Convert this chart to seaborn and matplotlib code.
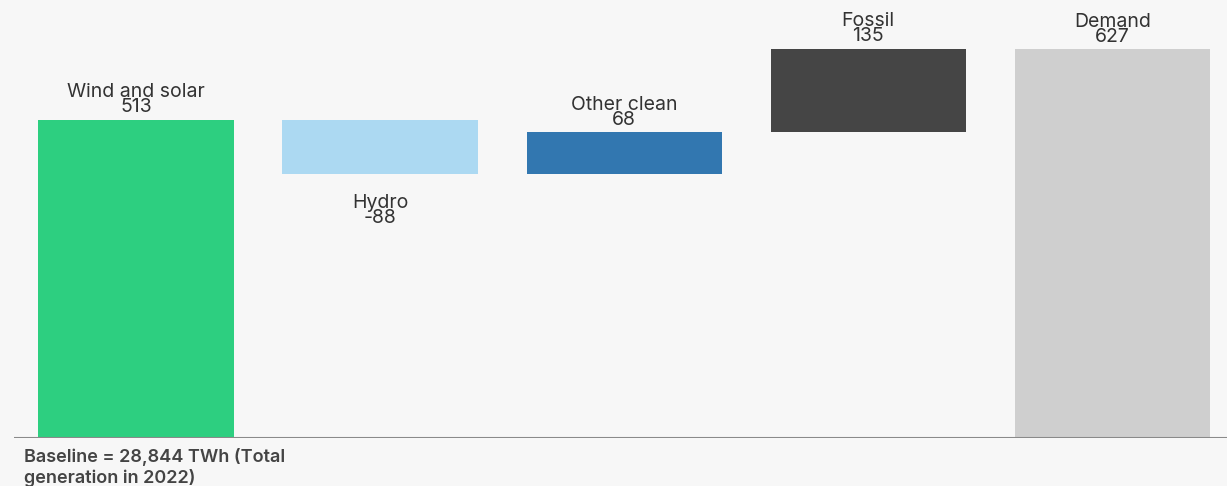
import matplotlib

matplotlib.use("Agg")
import matplotlib.pyplot as plt
import numpy as np
import pandas as pd
import seaborn as sns

# waterfall data (TWh change vs 2022 baseline)
categories = ["Wind and solar", "Hydro", "Other clean", "Fossil", "Demand"]
changes = [513, -88, 68, 135, 627]
is_total = [False, False, False, False, True]
bar_colors = ["#2dcf80", "#acd9f2", "#3277b0", "#454545", "#cfcfcf"]
footnote = "Baseline = 28,844 TWh (Total\ngeneration in 2022)"

# floating bar bottoms from running total
running = np.cumsum([0 if t else c for c, t in zip(changes, is_total)])
bottoms = [0 if t else r - c for c, r, t in zip(changes, running, is_total)]

df = pd.DataFrame({"category": categories, "change": changes, "bottom": bottoms})

sns.set_theme(style="white")
plt.rcParams["font.family"] = ["Inter", "DejaVu Sans"]

bg = "#f7f7f7"
fig = plt.figure(figsize=(12.27, 4.86), dpi=100, facecolor=bg)
ax = fig.add_axes([14 / 1227, 48 / 486, 1213 / 1227, 434 / 486])
ax.set_facecolor(bg)

sns.barplot(data=df, x="category", y="change", bottom=df["bottom"], width=0.8,
            color="#cccccc", saturation=1, ax=ax)
for patch, col in zip(ax.patches, bar_colors):
    patch.set_facecolor(col)
    patch.set_edgecolor("none")

ax.set_xlim(-0.5, 4.47)
ax.set_ylim(0, 700)

for i, row in df.iterrows():
    label = f"{row['category']}\n{row['change']}"
    if row["change"] >= 0:
        ax.annotate(label, (i, row["bottom"] + row["change"]), xytext=(0, 2.5),
                    textcoords="offset points", ha="center", va="bottom",
                    fontsize=14, color="#333333", linespacing=0.8)
    else:
        ax.annotate(label, (i, row["bottom"] + row["change"]), xytext=(0, -14),
                    textcoords="offset points", ha="center", va="top",
                    fontsize=14, color="#333333", linespacing=0.8)

ax.axhline(0, color="#8a8a8a", lw=1.5)
for s in ax.spines.values():
    s.set_visible(False)
ax.set_xticks([])
ax.set_yticks([])
ax.set_xlabel("")
ax.set_ylabel("")

fig.text(24 / 1227, 1 - 448 / 486, footnote, ha="left", va="top", fontsize=13,
         fontweight="semibold", color="#444444", linespacing=1.2)

fig.savefig("out.png", dpi=100, facecolor=bg)
